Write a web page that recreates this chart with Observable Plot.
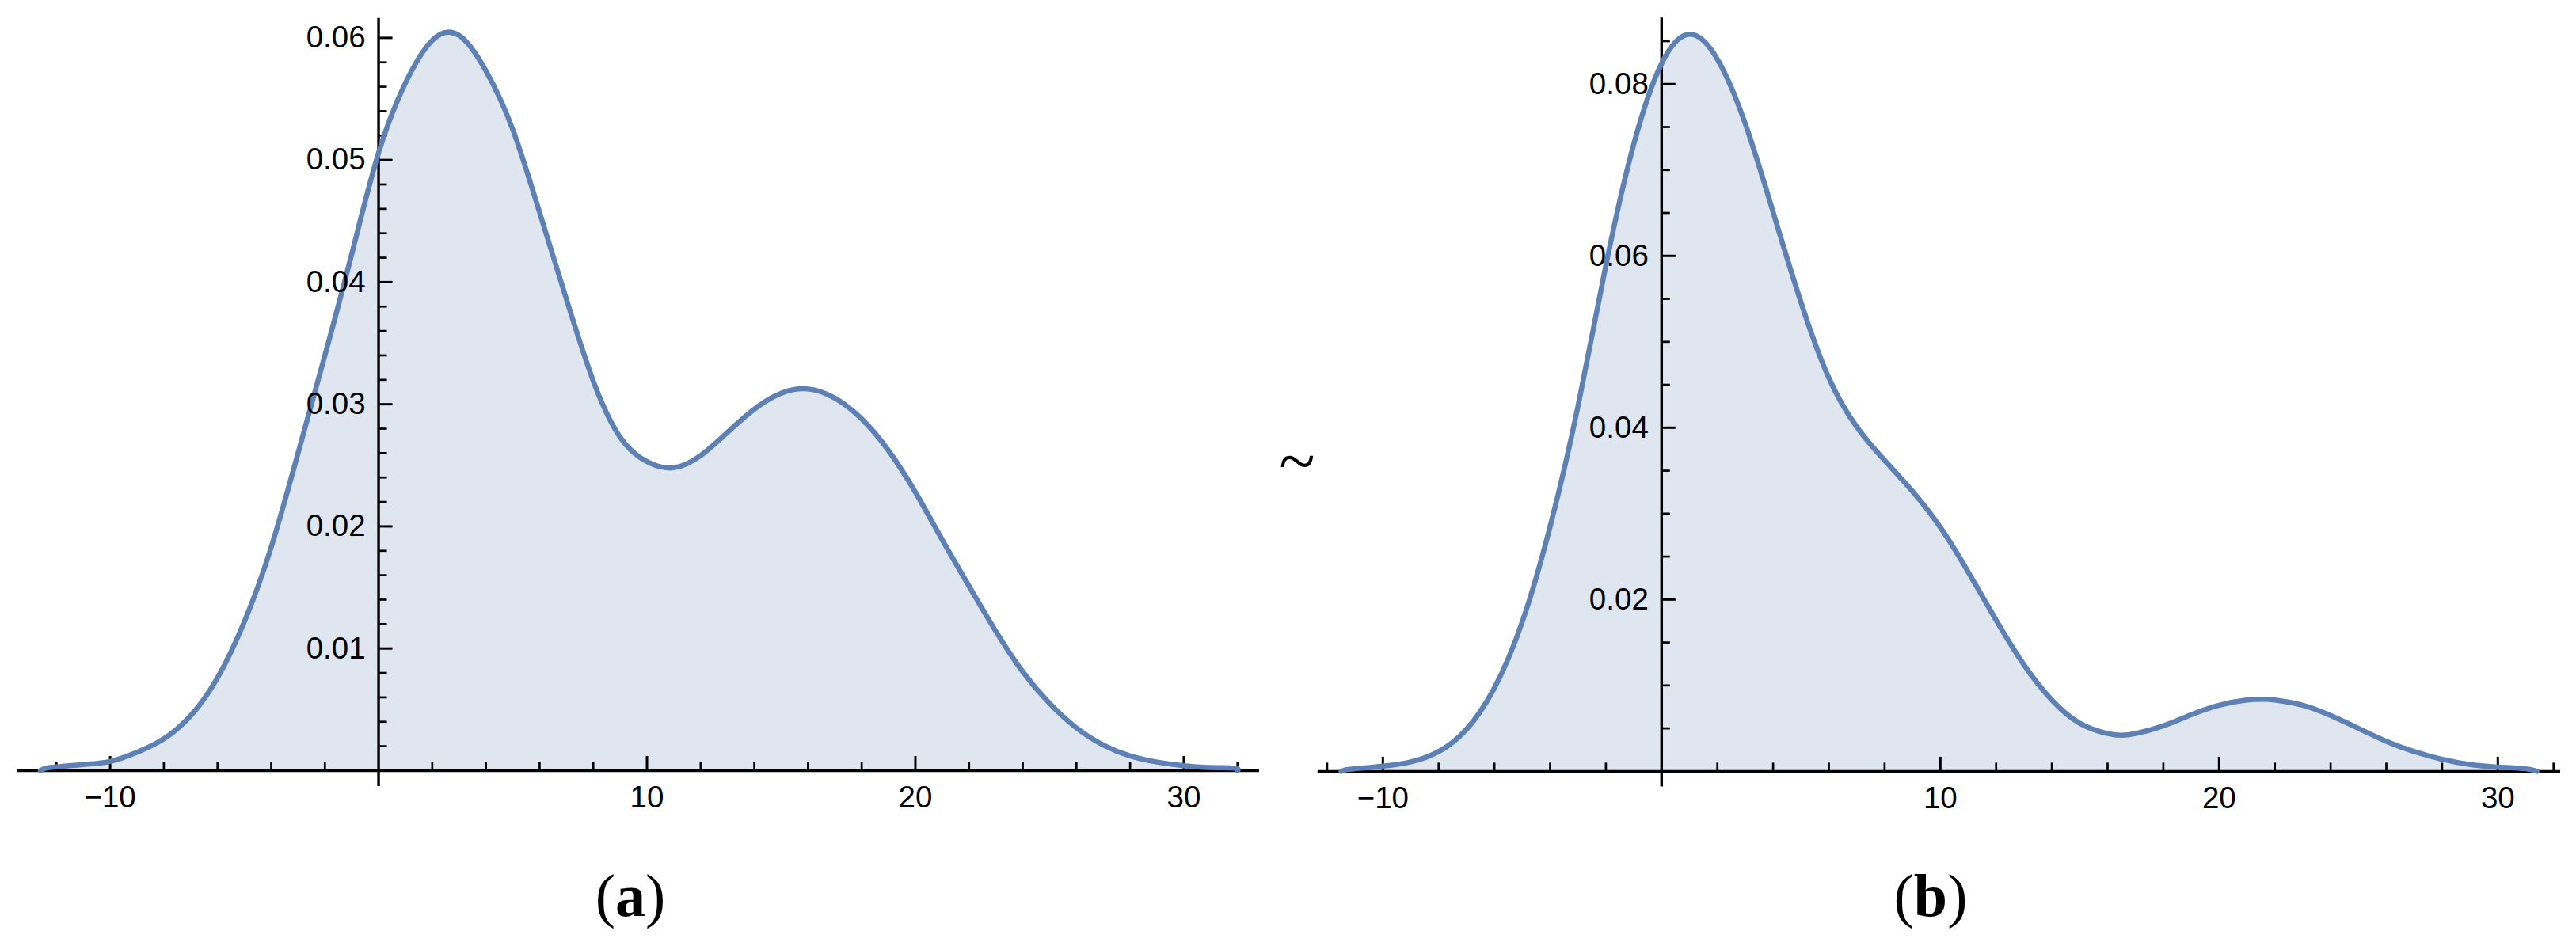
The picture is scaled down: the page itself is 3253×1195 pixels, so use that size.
<!DOCTYPE html>
<html>
<head>
<meta charset="utf-8">
<script src="https://cdn.jsdelivr.net/npm/d3@7"></script>
<script src="https://cdn.jsdelivr.net/npm/@observablehq/plot@0.6"></script>
<style>
  html, body { margin: 0; padding: 0; background: #fff; }
  #page { position: relative; width: 3253px; height: 1195px; overflow: hidden; background: #fff; }
  .panel { position: absolute; top: 0; }
  .panel svg { max-width: none !important; display: block; }
  .cap { position: absolute; font-family: "Liberation Serif", "Times New Roman", serif; font-size: 76px; line-height: 76px; white-space: nowrap; color: #000; }
  .cap b { font-weight: bold; }
  #tilde { position: absolute; font-family: "Liberation Serif", "Times New Roman", serif; font-size: 84px; line-height: 84px; color: #000; }
</style>
</head>
<body>
<div id="page">
  <div id="panelA" class="panel" style="left:0px;width:1620px"></div>
  <div id="panelB" class="panel" style="left:1640px;width:1613px"></div>
  <div id="tilde">~</div>
  <div id="capA" class="cap">(<b>a</b>)</div>
  <div id="capB" class="cap">(<b>b</b>)</div>
</div>
<script>
// ---------- data: panel (a) ----------
const xA = [-12.6, -12.4, -12, -11, -10, -9, -8, -7, -6, -5, -4, -3, -2, -1, 0, 1, 2, 3, 4, 5, 6, 7, 8, 9, 10, 11, 12, 13, 14, 15, 16, 17, 18, 19, 20, 21, 22, 23, 24, 25, 26, 27, 28, 29, 30, 31, 31.9, 32];
const densityA = [0, 0.0002, 0.0003, 0.0005, 0.00075, 0.0015, 0.0026, 0.0045, 0.0076, 0.0122, 0.0183, 0.0260, 0.0340, 0.0423, 0.0506, 0.0563, 0.0598, 0.0602, 0.0573, 0.0525, 0.0457, 0.0386, 0.0319, 0.0273, 0.0253, 0.0248, 0.0258, 0.0277, 0.0296, 0.0309, 0.03125, 0.0305, 0.0288, 0.0262, 0.0228, 0.0189, 0.0151, 0.0114, 0.0081, 0.0055, 0.0035, 0.0021, 0.0012, 0.0007, 0.0004, 0.00025, 0.0002, 0];

// ---------- data: panel (b) ----------
const xB = [-11.5, -11.3, -11, -10, -9, -8, -7, -6, -5, -4, -3, -2, -1, 0, 1, 2, 3, 4, 5, 6, 7, 8, 9, 10, 11, 12, 13, 14, 15, 16, 16.5, 17, 18, 19, 20, 21, 21.6, 22, 23, 24, 25, 26, 27, 28, 29, 30, 31, 31.4];
const densityB = [0, 0.0002, 0.0003, 0.0006, 0.0011, 0.0023, 0.0049, 0.0097, 0.0174, 0.0285, 0.0425, 0.0589, 0.0730, 0.0824, 0.0858, 0.0829, 0.0754, 0.0651, 0.0546, 0.0458, 0.0401, 0.0362, 0.0326, 0.0284, 0.0232, 0.0176, 0.0124, 0.0083, 0.0056, 0.0044, 0.0042, 0.0044, 0.0053, 0.0066, 0.0077, 0.0083, 0.0084, 0.0083, 0.0077, 0.0065, 0.0050, 0.0035, 0.0023, 0.0014, 0.0008, 0.0005, 0.0003, 0];

// ---------- tick labels ----------
const xMajorA = [-10, 10, 20, 30];
const xMinorA = [-12, -8, -6, -4, -2, 2, 4, 6, 8, 12, 14, 16, 18, 22, 24, 26, 28, 32];
const yMajorA = [0.01, 0.02, 0.03, 0.04, 0.05, 0.06];
const yMinorA = [0.002, 0.004, 0.006, 0.008, 0.012, 0.014, 0.016, 0.018, 0.022, 0.024, 0.026, 0.028, 0.032, 0.034, 0.036, 0.038, 0.042, 0.044, 0.046, 0.048, 0.052, 0.054, 0.056, 0.058];

const xMajorB = [-10, 10, 20, 30];
const xMinorB = [-12, -8, -6, -4, -2, 2, 4, 6, 8, 12, 14, 16, 18, 22, 24, 26, 28, 32];
const yMajorB = [0.02, 0.04, 0.06, 0.08];
const yMinorB = [0.005, 0.01, 0.015, 0.025, 0.03, 0.035, 0.045, 0.05, 0.055, 0.065, 0.07, 0.075, 0.085];

// ---------- style ----------
const LINE = "#5E81B5";
const TICKFONT = "Liberation Sans, Arial, Helvetica, sans-serif";
const TICKSIZE = 38.5;

function panel({xs, ys, xMajor, xMinor, yMajor, yMinor, xDomain, yDomain, width, height, marginLeft, marginRight, marginTop, marginBottom}) {
  const data = xs.map((x, i) => ({x, y: ys[i]}));
  const fmtX = d3.format("d");
  const fmtY = d3.format(".2f");
  return Plot.plot({
    width, height, marginLeft, marginRight, marginTop, marginBottom,
    x: {domain: xDomain, axis: null},
    y: {domain: yDomain, axis: null},
    style: {background: "transparent", overflow: "visible"},
    marks: [
      Plot.areaY(data, {x: "x", y: "y", fill: LINE, fillOpacity: 0.2, curve: "natural"}),
      Plot.ruleY([0], {stroke: "black", strokeWidth: 3.4}),
      Plot.ruleX([0], {stroke: "black", strokeWidth: 3.4}),
      Plot.ruleX(xMajor, {x: d => d, y1: 0, y2: 0, insetTop: -18, stroke: "black", strokeWidth: 3}),
      Plot.ruleX(xMinor, {x: d => d, y1: 0, y2: 0, insetTop: -10.5, stroke: "black", strokeWidth: 2.7}),
      Plot.ruleY(yMajor, {y: d => d, x1: 0, x2: 0, insetRight: -18, stroke: "black", strokeWidth: 3}),
      Plot.ruleY(yMinor, {y: d => d, x1: 0, x2: 0, insetRight: -11, stroke: "black", strokeWidth: 2.7}),
      Plot.lineY(data, {x: "x", y: "y", stroke: LINE, strokeWidth: 6.5, curve: "natural", strokeLinejoin: "round"}),
      Plot.text(xMajor, {x: d => d, y: 0, text: d => fmtX(d), dy: 19.5, lineAnchor: "top", textAnchor: "middle", fontSize: TICKSIZE, fontFamily: TICKFONT, fill: "black"}),
      Plot.text(yMajor, {x: 0, y: d => d, text: d => fmtY(d), dx: -16.5, textAnchor: "end", lineAnchor: "middle", fontSize: TICKSIZE, fontFamily: TICKFONT, fill: "black"})
    ]
  });
}

document.getElementById("panelA").appendChild(panel({
  xs: xA, ys: densityA, xMajor: xMajorA, xMinor: xMinorA, yMajor: yMajorA, yMinor: yMinorA,
  xDomain: [-13.47, 32.82], yDomain: [-0.0013, 0.0616],
  width: 1620, height: 1045, marginLeft: 21, marginRight: 30, marginTop: 22.7, marginBottom: 52
}));

document.getElementById("panelB").appendChild(panel({
  xs: xB, ys: densityB, xMajor: xMajorB, xMinor: xMinorB, yMajor: yMajorB, yMinor: yMinorB,
  xDomain: [-12.33, 32.25], yDomain: [-0.0018, 0.0877],
  width: 1613, height: 1045, marginLeft: 23.8, marginRight: 20, marginTop: 22.2, marginBottom: 51.6
}));

// captions and separator
function place(id, cx, top) {
  const el = document.getElementById(id);
  const w = el.getBoundingClientRect().width;
  el.style.left = (cx - w / 2) + "px";
  el.style.top = top + "px";
}
place("capA", 796, 1093);
place("capB", 2438, 1093);
place("tilde", 1638, 541);
</script>
</body>
</html>
